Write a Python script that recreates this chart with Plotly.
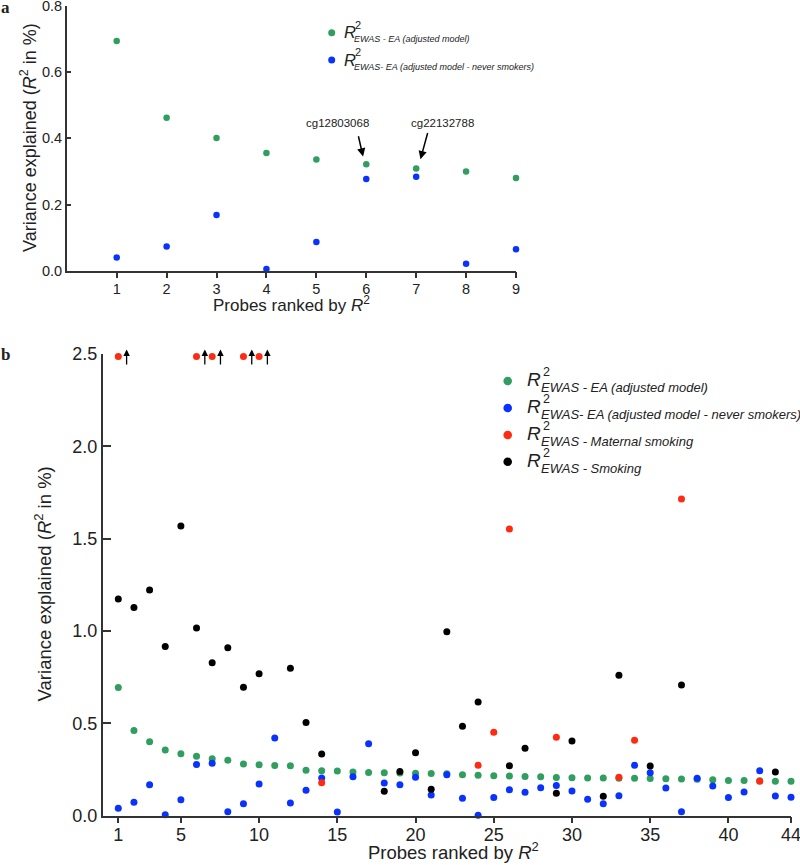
import plotly.graph_objects as go

# ranked probes (panel b: top 44, panel a: top 9)
probes_b = list(range(1, 45))
probes_a = probes_b[:9]

ea_adjusted = [0.694, 0.462, 0.401, 0.356, 0.336, 0.322, 0.309, 0.300, 0.280, 0.276,
               0.272, 0.270, 0.246, 0.243, 0.242, 0.237, 0.234, 0.232, 0.231, 0.230,
               0.229, 0.227, 0.222, 0.219, 0.216, 0.215, 0.212, 0.211, 0.207, 0.205,
               0.204, 0.204, 0.203, 0.203, 0.201, 0.200, 0.199, 0.198, 0.195, 0.191,
               0.190, 0.189, 0.187, 0.186]
ea_never_smokers = [0.040, 0.073, 0.168, 0.005, 0.087, 0.277, 0.284, 0.021, 0.065, 0.172,
                    0.421, 0.069, 0.138, 0.204, 0.020, 0.211, 0.390, 0.177, 0.168, 0.208,
                    0.112, 0.222, 0.094, 0.003, 0.098, 0.141, 0.127, 0.152, 0.163, 0.134,
                    0.089, 0.065, 0.108, 0.273, 0.233, 0.150, 0.022, 0.203, 0.161, 0.098,
                    0.128, 0.244, 0.107, 0.100]
smoking = [1.173, 1.127, 1.222, 0.916, 1.569, 1.016, 0.828, 0.909, 0.696, 0.768,
           None, 0.799, 0.504, 0.334, None, None, None, 0.132, 0.240, 0.341,
           0.143, 0.996, 0.485, 0.616, None, 0.271, 0.365, None, 0.121, 0.405,
           None, 0.105, 0.761, None, 0.269, None, 0.708, None, None, None,
           None, None, 0.237, None]
# off-scale values (probes 1, 6, 7, 9, 10) are drawn at the top of the axis
maternal_smoking = [2.486, None, None, None, None, 2.486, 2.486, None, 2.486, 2.486,
                    None, None, None, 0.179, None, None, None, None, None, None,
                    None, None, None, 0.273, 0.452, 1.552, None, None, 0.425, None,
                    None, None, 0.208, 0.409, None, None, 1.715, None, None, None,
                    None, 0.186, None, None]
maternal_offscale = [1, 6, 7, 9, 10]

labelled_probes = ["cg12803068", "cg22132788"]

GREEN = "#2f9e5e"
BLUE = "#0a32ff"
RED = "#ff2a12"
BLACK = "#000000"
AXIS = "#333333"
TXT = "#222222"
SANS = "Liberation Sans, Arial, sans-serif"
W, H = 800, 865


def px(x):
    return x / W


def py(y):
    return 1 - y / H


fig = go.Figure()

# panel a
fig.add_trace(go.Scatter(x=probes_a, y=ea_adjusted[:9], mode="markers", cliponaxis=False,
                         marker=dict(size=6.5, color=GREEN), xaxis="x", yaxis="y"))
fig.add_trace(go.Scatter(x=probes_a, y=ea_never_smokers[:9], mode="markers", cliponaxis=False,
                         marker=dict(size=6.5, color=BLUE), xaxis="x", yaxis="y"))

# panel b
for vals, col in [(ea_adjusted, GREEN), (ea_never_smokers, BLUE), (smoking, BLACK), (maternal_smoking, RED)]:
    fig.add_trace(go.Scatter(x=probes_b, y=vals, mode="markers", cliponaxis=False,
                             marker=dict(size=7, color=col), xaxis="x2", yaxis="y2"))

axis_common = dict(showline=True, linecolor=AXIS, linewidth=1.5, showgrid=False, zeroline=False,
                   tickcolor=AXIS, tickwidth=1.5, fixedrange=True, automargin=False,
                   ticklabeloverflow="allow")

fig.update_layout(
    width=W, height=H, margin=dict(l=0, r=0, t=0, b=0), template="none",
    paper_bgcolor="white", plot_bgcolor="white", showlegend=False,
    xaxis=dict(axis_common, domain=[px(66.8), px(516)], range=[0, 9], anchor="y",
               tickvals=probes_a, ticks="outside", ticklen=6, ticklabelstandoff=-2,
               tickfont=dict(family=SANS, size=14.5, color=TXT)),
    yaxis=dict(axis_common, domain=[py(270.7), py(6)], range=[0, 0.8], anchor="x",
               tickvals=[0, 0.2, 0.4, 0.6, 0.8], tickformat=".1f", ticks="inside", ticklen=4,
               tickfont=dict(family=SANS, size=14.5, color=TXT)),
    xaxis2=dict(axis_common, domain=[px(102.66), px(791)], range=[0, 44], anchor="y2",
                tickvals=[1, 5, 10, 15, 20, 25, 30, 35, 40, 44], ticks="outside", ticklen=6,
                ticklabelstandoff=-4, tickfont=dict(family=SANS, size=18, color=TXT)),
    yaxis2=dict(axis_common, domain=[py(815.7), py(354)], range=[0, 2.5], anchor="x2",
                tickvals=[0, 0.5, 1.0, 1.5, 2.0, 2.5], tickformat=".1f", ticks="inside", ticklen=9,
                tickfont=dict(family=SANS, size=18, color=TXT)),
)

ann = []
shapes = []


def text(x, y, s, size, xanchor="left", angle=0, family=SANS):
    ann.append(dict(xref="paper", yref="paper", x=px(x), y=py(y), text=s, showarrow=False,
                    xanchor=xanchor, yanchor="middle", textangle=angle, borderpad=0,
                    font=dict(family=family, size=size, color=TXT)))


# panel letters
text(0, 8, "<b>a</b>", 17, family="Liberation Serif, serif")
text(0, 354, "<b>b</b>", 17, family="Liberation Serif, serif")

# axis titles
text(28, 138, "Variance explained (<i>R</i><sup>2</sup> in %)", 18, xanchor="center", angle=-90)
text(291.5, 304, "Probes ranked by <i>R</i><sup>2</sup>", 17, xanchor="center")
text(43.4, 584, "Variance explained (<i>R</i><sup>2</sup> in %)", 18.5, xanchor="center", angle=-90)
text(453, 851, "Probes ranked by <i>R</i><sup>2</sup>", 18.5, xanchor="center")


# legends
def legend(entries, dot_x, ys, r, size_r, size_sup, size_sub, r_left, sup_left, sub_left, d_r, d_sup, d_sub):
    for (label, col), yy in zip(entries, ys):
        shapes.append(dict(type="circle", xref="paper", yref="paper", xsizemode="pixel", ysizemode="pixel",
                           xanchor=px(dot_x), yanchor=py(yy), x0=-r, x1=r, y0=-r, y1=r,
                           fillcolor=col, line=dict(width=0)))
        text(r_left, yy + d_r, "<i>R</i>", size_r)
        text(sup_left, yy + d_sup, "2", size_sup)
        text(sub_left, yy + d_sub, "<i>" + label + "</i>", size_sub)


labels = ["EWAS - EA (adjusted model)", "EWAS- EA (adjusted model - never smokers)",
          "EWAS - Maternal smoking", "EWAS - Smoking"]
colors = [GREEN, BLUE, RED, BLACK]
legend(list(zip(labels[:2], colors[:2])), 331.7, [32.7, 60], 3.5, 16.5, 11, 9,
       343, 354, 352.7, -0.4, -8.2, 6.8)
legend(list(zip(labels, colors)), 507.7, [381, 408, 435, 461.7], 4.3, 19, 12.5, 13,
       525.7, 541.7, 540, -1.3, -8.7, 6.5)

# labelled probes in panel a
for name, tx, ty, tailx, taily, headx, heady in [
        (labelled_probes[0], 5.43, 0.447, 5.836, 0.411, 5.936, 0.345),
        (labelled_probes[1], 7.53, 0.447, 7.238, 0.4205, 7.086, 0.337)]:
    ann.append(dict(xref="x", yref="y", x=tx, y=ty, text=name, showarrow=False,
                    font=dict(family=SANS, size=11.5, color=TXT)))
    ann.append(dict(xref="x", yref="y", axref="x", ayref="y", x=headx, y=heady, ax=tailx, ay=taily,
                    text="", showarrow=True, arrowhead=2, arrowsize=1.1, arrowwidth=1.5, arrowcolor=BLACK))

# off-scale markers in panel b
for p in maternal_offscale:
    ann.append(dict(xref="x2", yref="y2", axref="x2", ayref="y2", x=p + 0.53, y=2.525, ax=p + 0.53, ay=2.435,
                    text="", showarrow=True, arrowhead=2, arrowsize=1, arrowwidth=1.3, arrowcolor=BLACK))

fig.update_layout(annotations=ann, shapes=shapes)
fig.write_html("out.html", config={"displayModeBar": False},
               post_script="document.body.style.margin='0';")
